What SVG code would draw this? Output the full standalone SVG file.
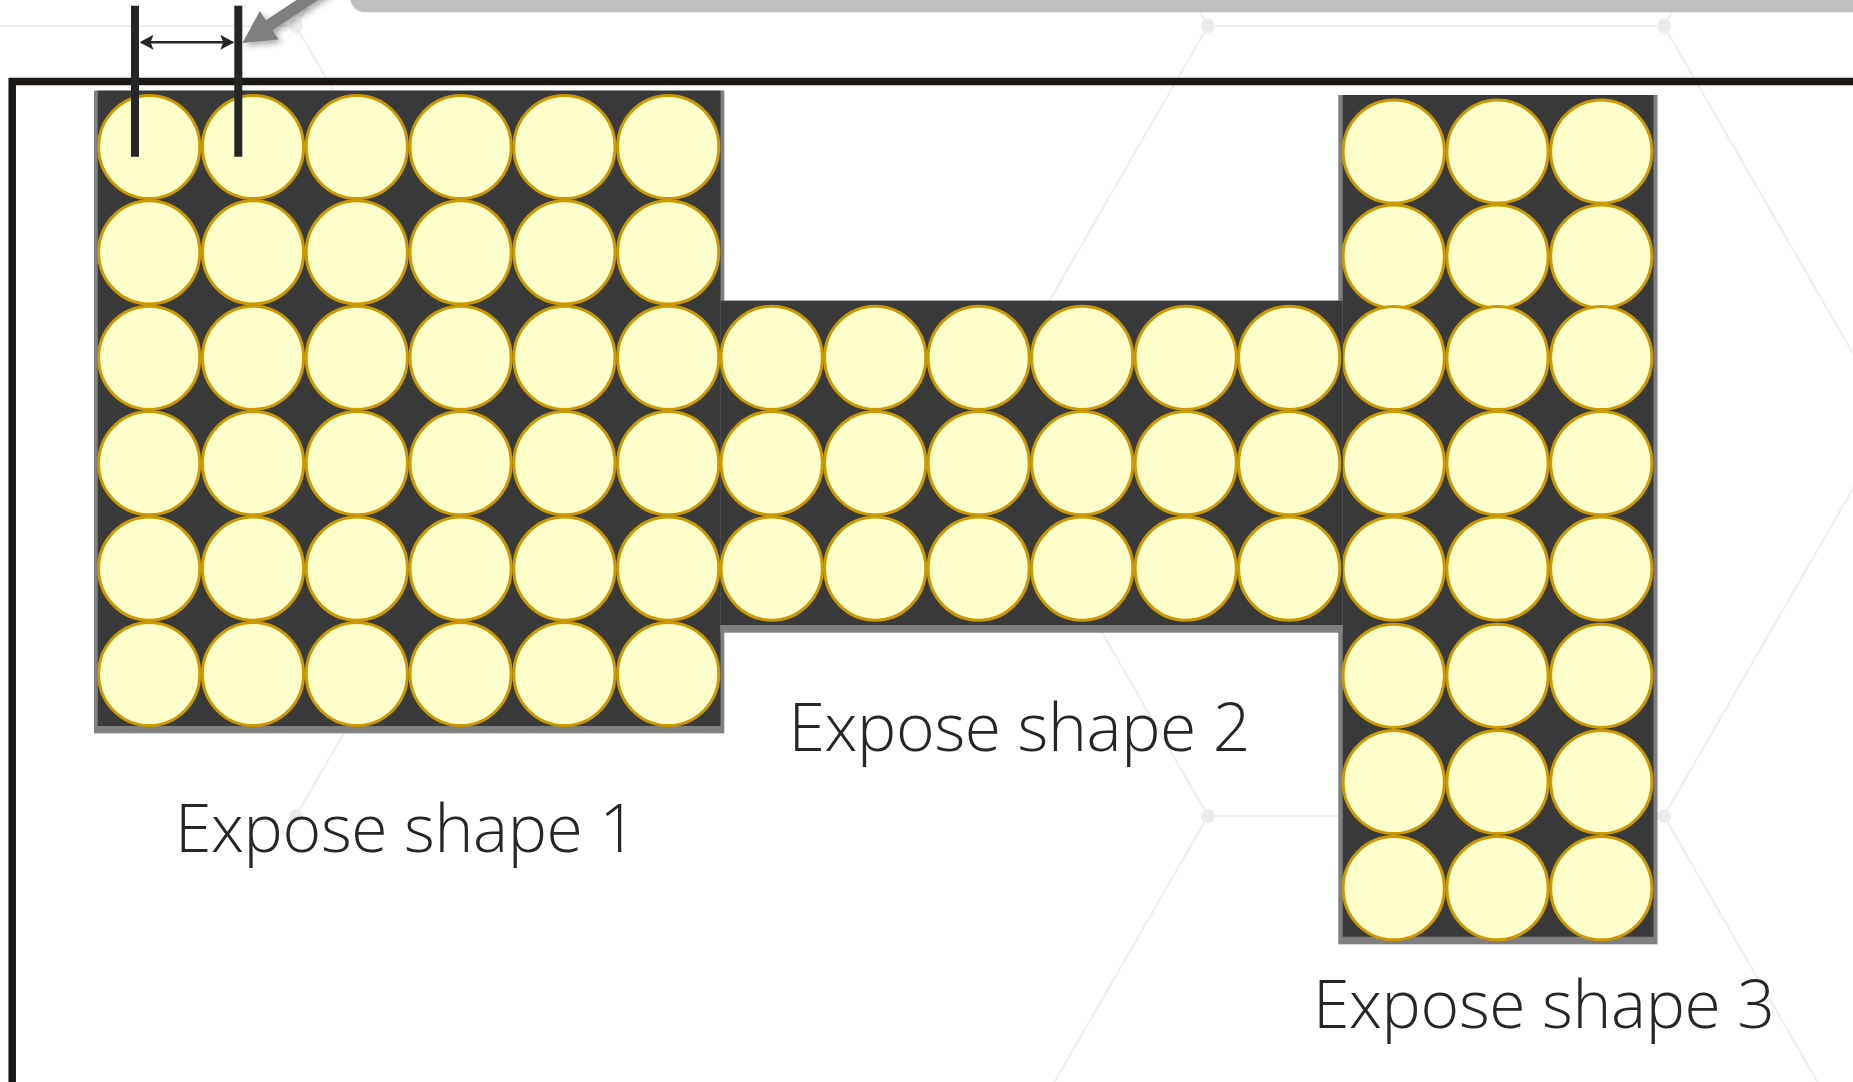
<svg xmlns="http://www.w3.org/2000/svg" xmlns:xlink="http://www.w3.org/1999/xlink" width="1853" height="1082" viewBox="0 0 1853 1082">
<style>
.hex{fill:none;stroke:#eeeeee;stroke-width:2}
.dot{fill:#ebebeb}
.frame{fill:none;stroke:#1c1914;stroke-width:7.5}
.rim{fill:#7f7f7f}
.body{fill:#3a3a3a}
.cell{fill:#ffffcc;stroke:#cc9900;stroke-width:3}
.lbl{font-family:'Open Sans','Liberation Sans',sans-serif;font-weight:300;font-size:66px;fill:#262626}
.bar{stroke:#262626;stroke-width:8}
.dim{stroke:#262626;stroke-width:2.5;fill:none}
</style>
<defs>
<ellipse id="c" cx="0" cy="0" rx="50.6" ry="51.6" class="cell"/>
<marker id="ah" viewBox="0 -8 14 16" refX="12" refY="0" markerWidth="14" markerHeight="16" markerUnits="userSpaceOnUse" orient="auto-start-reverse">
<path d="M0,-7.5 L14,0 L0,7.5 L3,0 Z" fill="#262626"/>
</marker>
<filter id="sh" x="-50%" y="-50%" width="200%" height="200%">
<feDropShadow dx="3" dy="3" stdDeviation="3" flood-color="#000" flood-opacity="0.35"/>
</filter>
</defs>
<rect width="1853" height="1082" fill="#ffffff"/>
<g id="background">
<path class="hex" d="M-160,26 H296 L524,-369 M296,26 L524,421 L296,816 M524,421 H980 L1208,26 L980,-369 M1208,26 H1664 L1892,-369 M1664,26 L1892,421 M980,421 L1208,816 H1664 L1892,421 M1208,816 L980,1211 M1664,816 L1892,1211"/>
<circle class="dot" cx="296" cy="26" r="7"/>
<circle class="dot" cx="1208" cy="26" r="7"/>
<circle class="dot" cx="1664" cy="26" r="7"/>
<circle class="dot" cx="296" cy="816" r="7"/>
<circle class="dot" cx="1208" cy="816" r="7"/>
<circle class="dot" cx="1664" cy="816" r="7"/>
<rect x="350" y="-20" width="1540" height="32.3" rx="15" fill="#bfbfbf"/>
</g>
<path class="frame" d="M12.2,1090 V81.4 H1860"/>
<g id="shape1">
<rect class="rim" x="94" y="90.5" width="630.3" height="642.8"/>
<rect class="body" x="97.8" y="90.7" width="622.7" height="635.3"/>
<use href="#c" x="149.2" y="147"/><use href="#c" x="253" y="147"/><use href="#c" x="356.8" y="147"/><use href="#c" x="460.6" y="147"/><use href="#c" x="564.4" y="147"/><use href="#c" x="668.2" y="147"/>
<use href="#c" x="149.2" y="252.4"/><use href="#c" x="253" y="252.4"/><use href="#c" x="356.8" y="252.4"/><use href="#c" x="460.6" y="252.4"/><use href="#c" x="564.4" y="252.4"/><use href="#c" x="668.2" y="252.4"/>
<use href="#c" x="149.2" y="357.8"/><use href="#c" x="253" y="357.8"/><use href="#c" x="356.8" y="357.8"/><use href="#c" x="460.6" y="357.8"/><use href="#c" x="564.4" y="357.8"/><use href="#c" x="668.2" y="357.8"/>
<use href="#c" x="149.2" y="463.2"/><use href="#c" x="253" y="463.2"/><use href="#c" x="356.8" y="463.2"/><use href="#c" x="460.6" y="463.2"/><use href="#c" x="564.4" y="463.2"/><use href="#c" x="668.2" y="463.2"/>
<use href="#c" x="149.2" y="568.6"/><use href="#c" x="253" y="568.6"/><use href="#c" x="356.8" y="568.6"/><use href="#c" x="460.6" y="568.6"/><use href="#c" x="564.4" y="568.6"/><use href="#c" x="668.2" y="568.6"/>
<use href="#c" x="149.2" y="674"/><use href="#c" x="253" y="674"/><use href="#c" x="356.8" y="674"/><use href="#c" x="460.6" y="674"/><use href="#c" x="564.4" y="674"/><use href="#c" x="668.2" y="674"/>
<text class="lbl" x="175" y="851.5" textLength="462" lengthAdjust="spacing">Expose shape 1</text>
</g>
<g id="shape3">
<rect class="rim" x="1338.3" y="95" width="319.2" height="849.3"/>
<rect class="body" x="1342.7" y="95" width="310.8" height="841.7"/>
<use href="#c" x="1393.7" y="151.5"/><use href="#c" x="1497.5" y="151.5"/><use href="#c" x="1601.3" y="151.5"/>
<use href="#c" x="1393.7" y="256.5"/><use href="#c" x="1497.5" y="256.5"/><use href="#c" x="1601.3" y="256.5"/>
<use href="#c" x="1393.7" y="358"/><use href="#c" x="1497.5" y="358"/><use href="#c" x="1601.3" y="358"/>
<use href="#c" x="1393.7" y="463.2"/><use href="#c" x="1497.5" y="463.2"/><use href="#c" x="1601.3" y="463.2"/>
<use href="#c" x="1393.7" y="568.6"/><use href="#c" x="1497.5" y="568.6"/><use href="#c" x="1601.3" y="568.6"/>
<use href="#c" x="1393.7" y="675.8"/><use href="#c" x="1497.5" y="675.8"/><use href="#c" x="1601.3" y="675.8"/>
<use href="#c" x="1393.7" y="782"/><use href="#c" x="1497.5" y="782"/><use href="#c" x="1601.3" y="782"/>
<use href="#c" x="1393.7" y="888.2"/><use href="#c" x="1497.5" y="888.2"/><use href="#c" x="1601.3" y="888.2"/>
<text class="lbl" x="1313" y="1028.3" textLength="462" lengthAdjust="spacing">Expose shape 3</text>
</g>
<g id="shape2">
<rect class="rim" x="720.3" y="300.7" width="622.4" height="332"/>
<rect class="body" x="720.3" y="300.7" width="622.4" height="324.3"/>
<use href="#c" x="771.7" y="357.8"/><use href="#c" x="875.2" y="357.8"/><use href="#c" x="978.7" y="357.8"/><use href="#c" x="1082.2" y="357.8"/><use href="#c" x="1185.7" y="357.8"/><use href="#c" x="1289.2" y="357.8"/>
<use href="#c" x="771.7" y="463.2"/><use href="#c" x="875.2" y="463.2"/><use href="#c" x="978.7" y="463.2"/><use href="#c" x="1082.2" y="463.2"/><use href="#c" x="1185.7" y="463.2"/><use href="#c" x="1289.2" y="463.2"/>
<use href="#c" x="771.7" y="568.6"/><use href="#c" x="875.2" y="568.6"/><use href="#c" x="978.7" y="568.6"/><use href="#c" x="1082.2" y="568.6"/><use href="#c" x="1185.7" y="568.6"/><use href="#c" x="1289.2" y="568.6"/>
<text class="lbl" x="788.5" y="751" textLength="462" lengthAdjust="spacing">Expose shape 2</text>
</g>
<g id="dimension">
<line class="bar" x1="135" y1="5.7" x2="135" y2="156.7"/>
<line class="bar" x1="238.3" y1="5.7" x2="238.3" y2="156.7"/>
</g>
<g id="connectors">
<line class="dim" x1="141.5" y1="42.3" x2="232.3" y2="42.3" marker-start="url(#ah)" marker-end="url(#ah)"/>
<polygon points="242.5,43 259.8,11.1 265.9,20.3 364.3,-44.8 370.9,-34.8 272.5,30.3 278.6,39.5" fill="#7f7f7f" filter="url(#sh)"/>
</g>
</svg>
